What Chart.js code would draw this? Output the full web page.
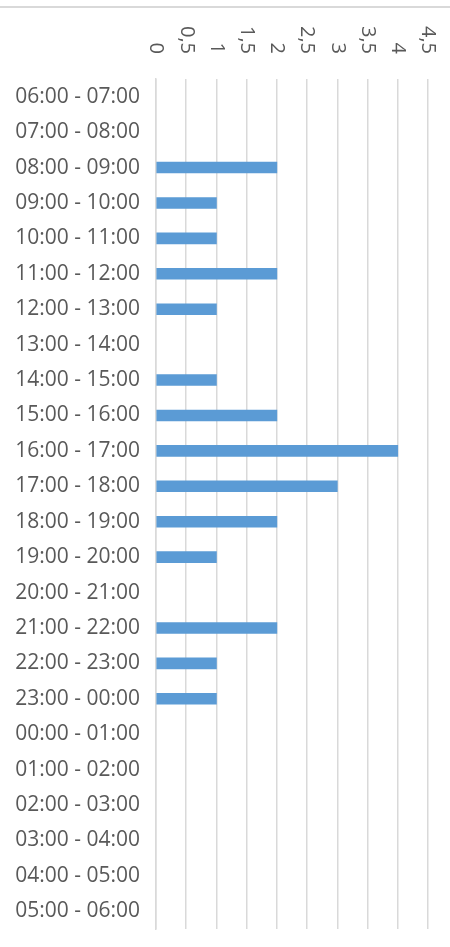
<!DOCTYPE html>
<html>
<head>
<meta charset="utf-8">
<script src="https://cdn.jsdelivr.net/npm/chart.js@4/dist/chart.umd.min.js"></script>
<style>
    body { margin: 0; background: #fff; }
    #wrap { position: relative; width: 450px; height: 947px; }
    #topLine { position: absolute; left: 0; top: 6px; width: 450px; height: 2px; background: #d9d9d9; }
</style>
</head>
<body>
<div id="wrap">
    <div id="topLine"></div>
    <canvas id="chart" width="450" height="947"></canvas>
</div>
<script>
const hours = [
    '06:00 - 07:00', '07:00 - 08:00', '08:00 - 09:00', '09:00 - 10:00',
    '10:00 - 11:00', '11:00 - 12:00', '12:00 - 13:00', '13:00 - 14:00',
    '14:00 - 15:00', '15:00 - 16:00', '16:00 - 17:00', '17:00 - 18:00',
    '18:00 - 19:00', '19:00 - 20:00', '20:00 - 21:00', '21:00 - 22:00',
    '22:00 - 23:00', '23:00 - 00:00', '00:00 - 01:00', '01:00 - 02:00',
    '02:00 - 03:00', '03:00 - 04:00', '04:00 - 05:00', '05:00 - 06:00'
];
const counts = [0, 0, 2, 1, 1, 2, 1, 0, 1, 2, 4, 3, 2, 1, 0, 2, 1, 1, 0, 0, 0, 0, 0, 0];
const xTickValues = [0, 0.5, 1, 1.5, 2, 2.5, 3, 3.5, 4, 4.5];
const xTickLabels = ['0', '0,5', '1', '1,5', '2', '2,5', '3', '3,5', '4', '4,5'];

const labelFont = { family: 'Open Sans', size: 21 };
const textColor = '#595959';
const gridColor = '#d9d9d9';

// x tick labels in the reference are turned clockwise, which Chart.js can't do itself
const rotatedTicks = {
    id: 'rotatedTicks',
    afterDraw(chart) {
        const ctx = chart.ctx;
        const x = chart.scales.x;
        ctx.save();
        ctx.font = '20px "' + labelFont.family + '"';
        ctx.fillStyle = textColor;
        ctx.textAlign = 'right';
        ctx.textBaseline = 'middle';
        xTickValues.forEach((v, i) => {
            ctx.save();
            ctx.translate(x.getPixelForValue(v), chart.chartArea.top - 25);
            ctx.rotate(Math.PI / 2);
            ctx.fillText(xTickLabels[i], 0, 0);
            ctx.restore();
        });
        ctx.restore();
    }
};

new Chart(document.getElementById('chart'), {
    type: 'bar',
    data: {
        labels: hours,
        datasets: [{
            data: counts,
            backgroundColor: (c) => c.raw === 0 ? 'rgba(0,0,0,0)' : '#5b9bd5',
            borderWidth: 0,
            barThickness: 11
        }]
    },
    options: {
        indexAxis: 'y',
        responsive: false,
        animation: false,
        layout: { padding: { top: 79, right: 22, bottom: 18, left: 0 } },
        plugins: {
            legend: { display: false },
            tooltip: { enabled: false }
        },
        scales: {
            x: {
                position: 'top',
                min: 0,
                max: 4.5,
                ticks: { display: false, stepSize: 0.5 },
                grid: { color: gridColor, lineWidth: 1.5, drawTicks: false },
                border: { display: false },
                afterFit(axis) { axis.height = 0; }
            },
            y: {
                grid: { display: false, drawTicks: false },
                border: { display: true, color: gridColor, width: 1.5 },
                ticks: { color: textColor, font: labelFont, padding: 16 },
                afterFit(axis) {
                    axis.width = 156;
                    axis.paddingTop = 0;
                    axis.paddingBottom = 0;
                }
            }
        }
    },
    plugins: [rotatedTicks]
});
</script>
</body>
</html>
